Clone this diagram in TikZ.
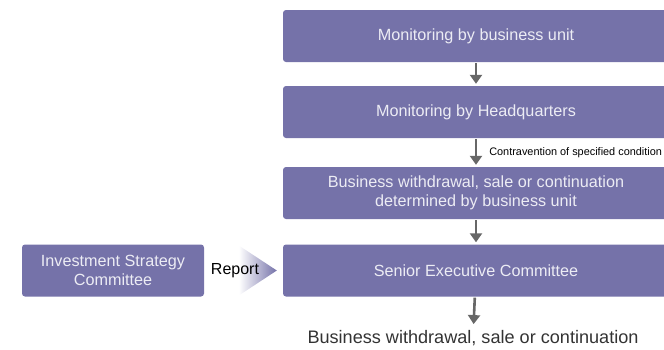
\documentclass[tikz,border=0pt]{standalone}
\usepackage{fontspec}
\setmainfont{Liberation Sans}
\usetikzlibrary{arrows.meta,positioning,calc}
\definecolor{boxviolet}{HTML}{7572A9}
\definecolor{boxtext}{HTML}{ECECF4}
\definecolor{arrgray}{HTML}{676767}
\definecolor{textgray}{HTML}{333333}

\begin{document}
\begin{tikzpicture}[x=1pt,y=-1pt,>=Latex,
  stage/.style={rounded corners=3pt,fill=boxviolet,draw=none,text=boxtext,
    minimum width=386pt,minimum height=52pt,align=center,inner sep=2pt,
    font=\fontsize{16.2}{19}\selectfont},
  side/.style={stage,minimum width=182pt},
  a/.style={-{Triangle[length=9pt,width=12pt]},line width=2.6pt,arrgray,shorten <=1pt,shorten >=2pt},
  d/.style={font=\fontsize{10.9}{12}\selectfont,text=black,inner sep=1pt}]
\useasboundingbox (0,0) rectangle (664,349);
\node[stage] (mbu) at (476,36) {Monitoring by business unit};
\node[stage] (mhq) at (476,112) {Monitoring by Headquarters};
\node[stage] (bwd) at (476,193) {Business withdrawal, sale or continuation\\determined by business unit};
\node[stage] (sec) at (476,270.5) {Senior Executive Committee};
\node[side] (isc) at (113,270.5) {Investment Strategy\\Committee};
\node[font=\fontsize{18.1}{20}\selectfont,text=textgray,inner sep=1pt] (res) at (473,338) {Business withdrawal, sale or continuation};
% report chevron
\coordinate (rtop) at ($(sec.west)+(-44,-25)$);
\coordinate (rbot) at ($(sec.west)+(-44,25)$);
\shade[left color=white,right color=boxviolet] (rtop) -- ($(sec.west)+(-6,0)$) -- (rbot) -- cycle;
\node[font=\fontsize{16}{18}\selectfont,text=black,inner sep=1pt] (rep) at (235,270.5) {Report};
\draw[a] (mbu)--(mhq); \draw[a] (mhq)--node[d,right,xshift=11pt]{Contravention of specified condition}(bwd);
\draw[a] (bwd)--(sec); \draw[a,shorten >=5pt] (sec)--(res);
\end{tikzpicture}
\end{document}
